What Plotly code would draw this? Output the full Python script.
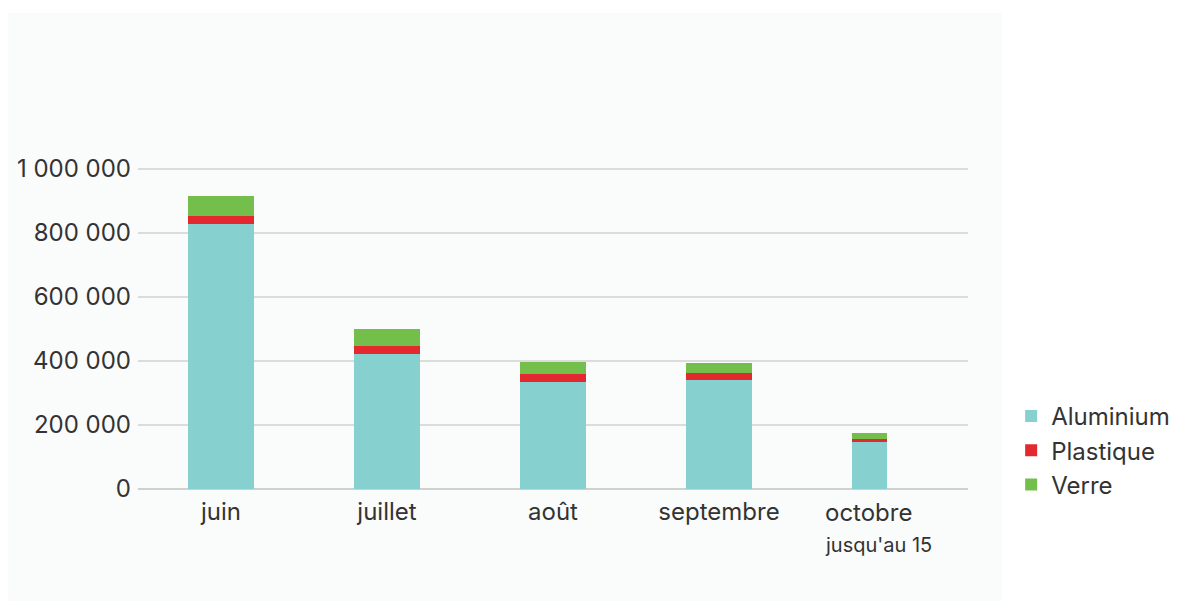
import plotly.graph_objects as go

months = ["juin", "juillet", "août", "septembre", "octobre"]
aluminium = [827000, 422000, 335000, 340000, 146000]
plastique = [27000, 26000, 23000, 23000, 9000]
verre = [62000, 51000, 39000, 32000, 21000]
bar_widths = [0.4, 0.4, 0.4, 0.4, 0.21]
y_ticks = [0, 200000, 400000, 600000, 800000, 1000000]
y_tick_text = ["0", "200 000", "400 000", "600 000", "800 000", "1 000 000"]

colors = {"Aluminium": "#86d0d0", "Plastique": "#e4282f", "Verre": "#74bf4b"}
FONT = "Inter, Roboto, Arial, sans-serif"
TXT = "#333333"

fig = go.Figure()
for name, vals in [("Aluminium", aluminium), ("Plastique", plastique), ("Verre", verre)]:
    fig.add_trace(go.Bar(
        x=months, y=vals, name=name, width=bar_widths, offset=-0.2,
        marker=dict(color=colors[name], line=dict(width=0)),
    ))

fig.update_layout(
    width=1182, height=601,
    barmode="stack",
    paper_bgcolor="white",
    plot_bgcolor="rgba(0,0,0,0)",
    margin=dict(l=130, r=222, t=129, b=120, autoexpand=False),
    font=dict(family=FONT, color=TXT, size=24),
    legend=dict(
        x=1.052, y=0.27, xanchor="left", yanchor="top",
        traceorder="normal", font=dict(size=24, color=TXT),
        bgcolor="rgba(0,0,0,0)", tracegroupgap=0, itemwidth=30,
    ),
    xaxis=dict(
        type="category", range=[-0.5, 4.5], automargin=False,
        tickvals=months[:4], ticktext=months[:4],
        showgrid=False, showline=False, zeroline=False, ticks="",
        tickfont=dict(size=24, color=TXT), ticklabelstandoff=6,
    ),
    yaxis=dict(
        range=[0, 1100000], tickvals=y_ticks, ticktext=y_tick_text,
        automargin=False,
        showgrid=True, gridcolor="#dcdcdc", gridwidth=2,
        zeroline=True, zerolinecolor="#d0d0d0", zerolinewidth=2,
        showline=False, ticks="", tickfont=dict(size=24, color=TXT),
        ticklabelstandoff=6,
    ),
    shapes=[dict(
        type="rect", xref="paper", yref="paper",
        x0=-0.158, x1=1.041, y0=-0.36, y1=1.352,
        fillcolor="#fafbfb", line=dict(width=0), layer="below",
    )],
    annotations=[
        dict(x="octobre", y=-0.068, xref="x", yref="paper", xshift=-62,
             xanchor="left", yanchor="middle", text="octobre",
             showarrow=False, font=dict(size=24, color=TXT)),
        dict(x="octobre", y=-0.158, xref="x", yref="paper", xshift=-62,
             xanchor="left", yanchor="middle", text="jusqu'au 15",
             showarrow=False, font=dict(size=20, color=TXT)),
    ],
)

fig.write_html("out.html")
